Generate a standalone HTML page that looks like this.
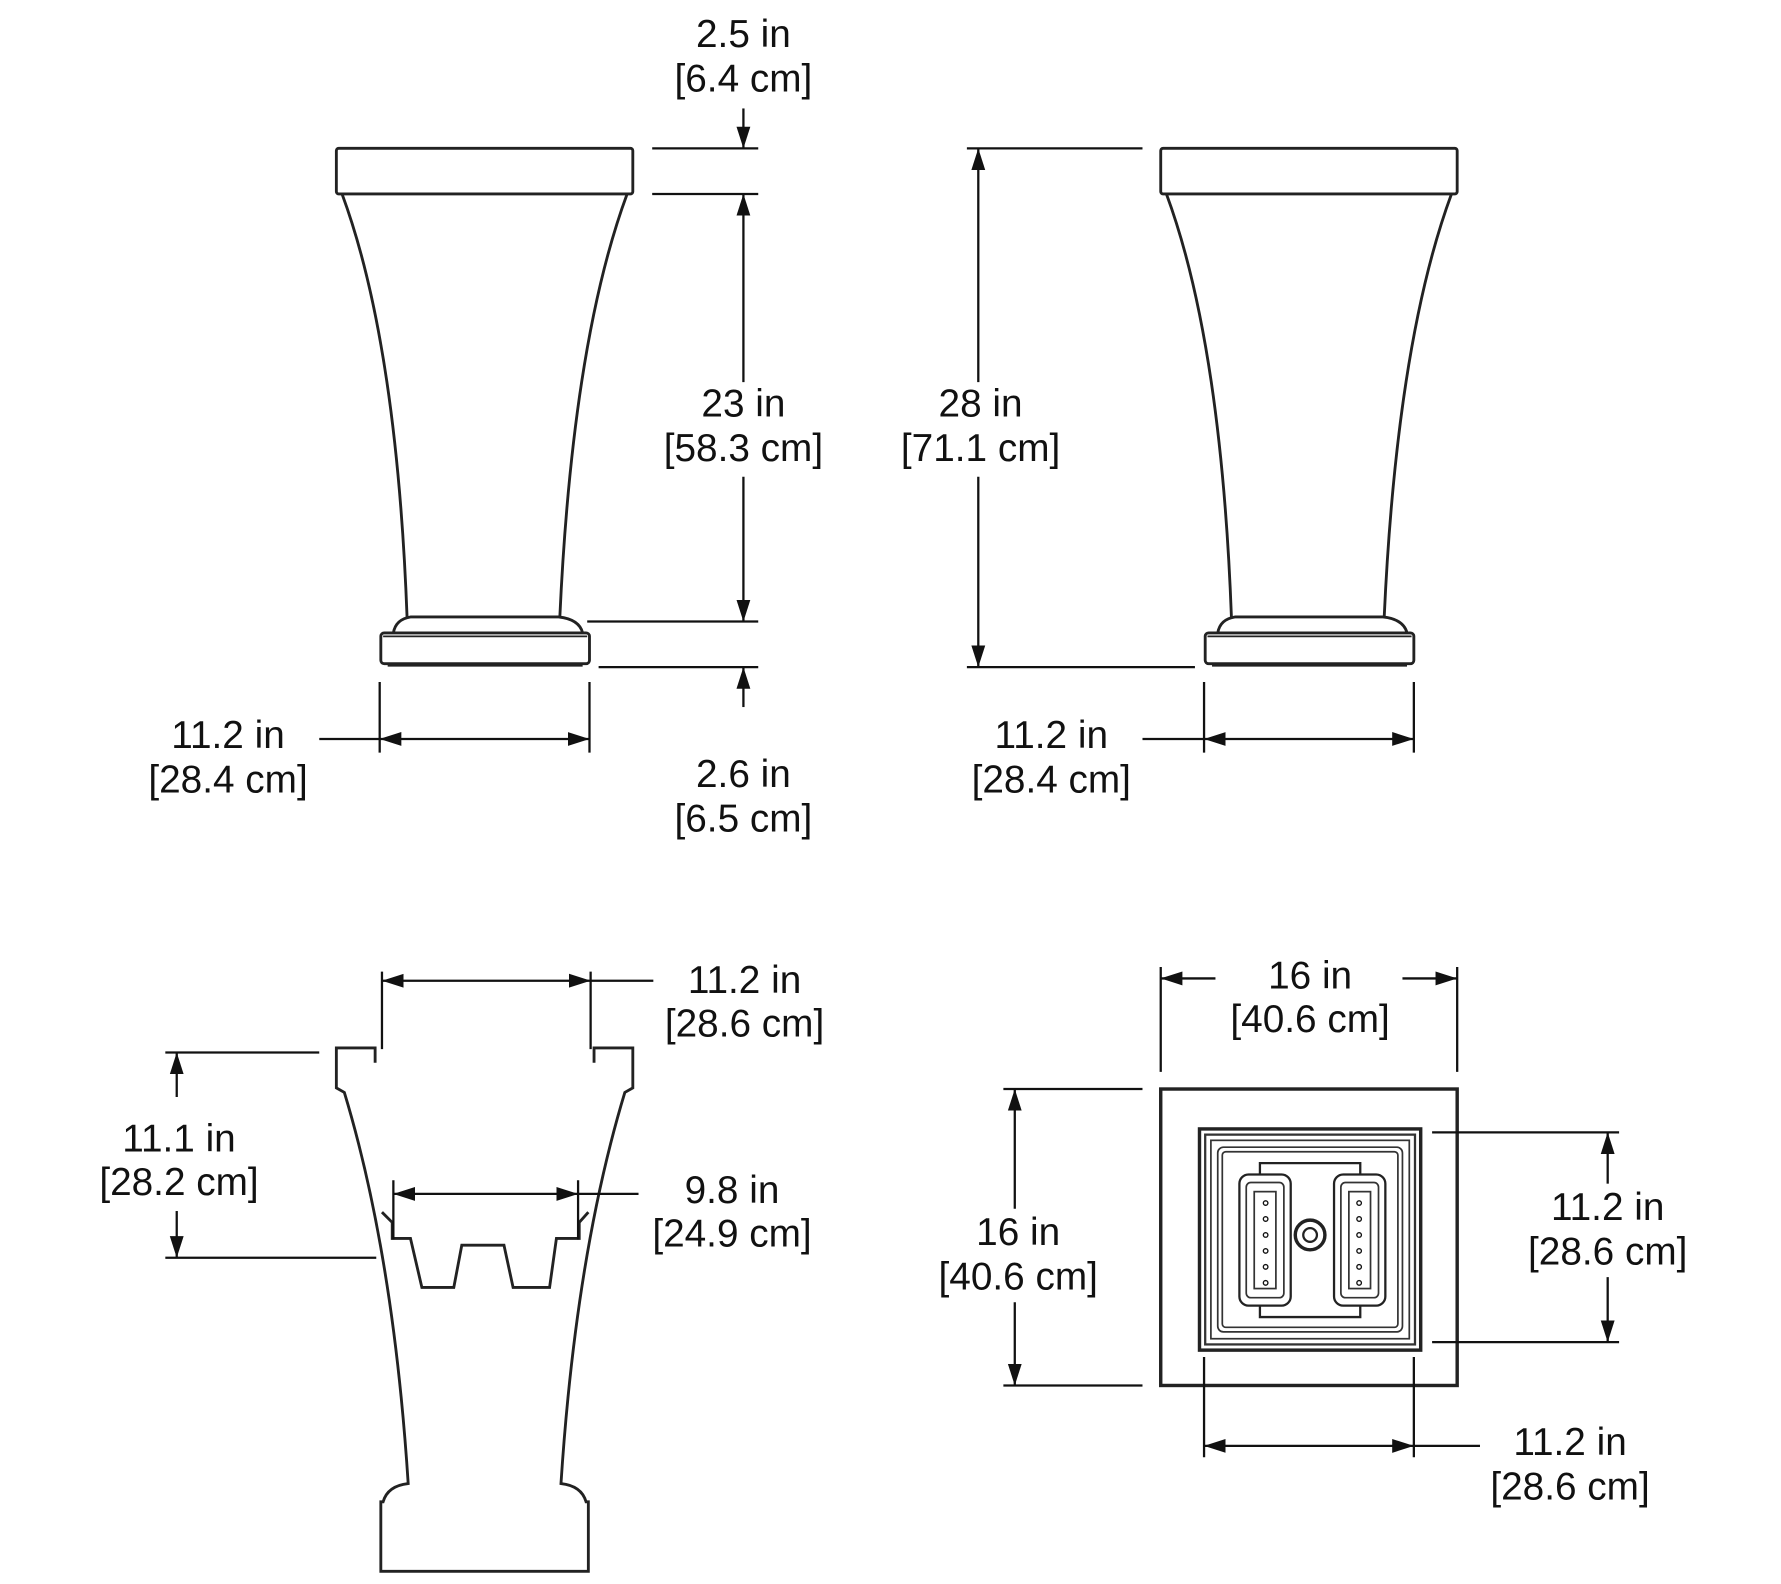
<!DOCTYPE html>
<html><head><meta charset="utf-8"><style>
html,body{margin:0;padding:0;background:#fff;}
svg{display:block;}
text{font-family:"Liberation Sans",sans-serif;font-size:34px;fill:#111;text-anchor:middle;}
</style></head><body>
<svg width="1781" height="1584" viewBox="0 0 1562 1389" xmlns="http://www.w3.org/2000/svg">
<defs>
<marker id="a" viewBox="0 0 10 10" refX="10" refY="5" markerWidth="19" markerHeight="19" markerUnits="userSpaceOnUse" orient="auto-start-reverse"><path d="M0,1.8 L10,5 L0,8.2 z" fill="#111"/></marker>
<g id="vase" fill="none" stroke="#222" stroke-width="2.5">
<rect x="295" y="130" width="260" height="40" rx="2"/>
<path d="M300,170 Q348,300 357,541 M550,170 Q502,300 491,541"/>
<path d="M345,555 Q347,543 360,541 L490,541 Q508,543 511,555"/>
<rect x="334" y="555" width="183" height="27" rx="3"/>
<line x1="340" y1="583" x2="511" y2="583" stroke-width="3"/>
<line x1="336" y1="558" x2="515" y2="558" stroke-width="1.5"/>
</g>
</defs>
<g stroke="#111" stroke-width="2" fill="none">
<use href="#vase"/>
<line x1="572" y1="130" x2="665" y2="130"/>
<line x1="572" y1="170" x2="665" y2="170"/>
<line x1="652" y1="95" x2="652" y2="130" marker-end="url(#a)"/>
<line x1="652" y1="335" x2="652" y2="170" marker-end="url(#a)"/>
<line x1="652" y1="418" x2="652" y2="545" marker-end="url(#a)"/>
<line x1="515" y1="545" x2="665" y2="545"/>
<line x1="525" y1="585" x2="665" y2="585"/>
<line x1="652" y1="620" x2="652" y2="585" marker-end="url(#a)"/>
<line x1="333" y1="598" x2="333" y2="660"/>
<line x1="517" y1="598" x2="517" y2="660"/>
<line x1="333" y1="648" x2="517" y2="648" marker-start="url(#a)" marker-end="url(#a)"/>
<line x1="280" y1="648" x2="333" y2="648"/>
<use href="#vase" transform="translate(723,0)"/>
<line x1="848" y1="130" x2="1002" y2="130"/>
<line x1="848" y1="585" x2="1048" y2="585"/>
<line x1="858" y1="335" x2="858" y2="130" marker-end="url(#a)"/>
<line x1="858" y1="418" x2="858" y2="585" marker-end="url(#a)"/>
<line x1="1056" y1="598" x2="1056" y2="660"/>
<line x1="1240" y1="598" x2="1240" y2="660"/>
<line x1="1056" y1="648" x2="1240" y2="648" marker-start="url(#a)" marker-end="url(#a)"/>
<line x1="1002" y1="648" x2="1056" y2="648"/>
<path stroke="#222" stroke-width="2.5" d="M329,932 L329,919 L295,919 L295,954 L302,958 Q345,1100 358,1301 Q340,1303 336,1317 L334,1317 L334,1378 L516,1378 L516,1317 L514,1317 Q510,1303 492,1301 Q505,1100 548,958 L555,954 L555,919 L521,919 L521,932"/>
<path stroke="#222" stroke-width="2.5" d="M335,1063 L344,1072 L344,1086 L360,1086 L370,1129 L398,1129 L405,1092 L442,1092 L450,1129 L482,1129 L488,1086 L508,1086 L508,1072 L516,1063"/>
<line x1="335" y1="852" x2="335" y2="920"/>
<line x1="518" y1="852" x2="518" y2="920"/>
<line x1="335" y1="860" x2="518" y2="860" marker-start="url(#a)" marker-end="url(#a)"/>
<line x1="518" y1="860" x2="573" y2="860"/>
<line x1="145" y1="923" x2="280" y2="923"/>
<line x1="145" y1="1103" x2="330" y2="1103"/>
<line x1="155" y1="962" x2="155" y2="923" marker-end="url(#a)"/>
<line x1="155" y1="1062" x2="155" y2="1103" marker-end="url(#a)"/>
<line x1="345" y1="1035" x2="345" y2="1087"/>
<line x1="507" y1="1035" x2="507" y2="1087"/>
<line x1="345" y1="1047" x2="507" y2="1047" marker-start="url(#a)" marker-end="url(#a)"/>
<line x1="507" y1="1047" x2="560" y2="1047"/>
<rect x="1018" y="955" width="260" height="260" stroke="#222" stroke-width="3"/>
<rect x="1052" y="990" width="194" height="194" stroke="#222" stroke-width="3"/>
<rect x="1057" y="995" width="184" height="184" stroke="#333" stroke-width="2"/>
<rect x="1062" y="1000" width="174" height="174" stroke="#333" stroke-width="1.5"/>
<rect x="1068" y="1006" width="162" height="162" rx="5" stroke="#333" stroke-width="1.5"/>
<rect x="1072" y="1010" width="154" height="154" rx="3" stroke="#333" stroke-width="1.5"/>
<rect x="1087" y="1030" width="45" height="115" rx="8" stroke="#222" stroke-width="2"/>
<rect x="1093" y="1037" width="33" height="101" rx="4" stroke="#333" stroke-width="1.5"/>
<rect x="1100" y="1045" width="19" height="85" stroke="#333" stroke-width="1.5"/>
<rect x="1170" y="1030" width="45" height="115" rx="8" stroke="#222" stroke-width="2"/>
<rect x="1176" y="1037" width="33" height="101" rx="4" stroke="#333" stroke-width="1.5"/>
<rect x="1183" y="1045" width="19" height="85" stroke="#333" stroke-width="1.5"/>
<path stroke="#222" stroke-width="2" d="M1105,1030 L1105,1020 L1193,1020 L1193,1030 M1105,1145 L1105,1155 L1193,1155 L1193,1145"/>
<circle cx="1149" cy="1083" r="13" stroke="#222" stroke-width="3"/>
<circle cx="1149" cy="1083" r="6" stroke="#222" stroke-width="2"/>
<g stroke-width="1.2"><circle cx="1110" cy="1055" r="2"/><circle cx="1110" cy="1069" r="2"/><circle cx="1110" cy="1083" r="2"/><circle cx="1110" cy="1097" r="2"/><circle cx="1110" cy="1111" r="2"/><circle cx="1110" cy="1125" r="2"/>
<circle cx="1192" cy="1055" r="2"/><circle cx="1192" cy="1069" r="2"/><circle cx="1192" cy="1083" r="2"/><circle cx="1192" cy="1097" r="2"/><circle cx="1192" cy="1111" r="2"/><circle cx="1192" cy="1125" r="2"/></g>
<line x1="1018" y1="848" x2="1018" y2="940"/>
<line x1="1278" y1="848" x2="1278" y2="940"/>
<line x1="1066" y1="858" x2="1018" y2="858" marker-end="url(#a)"/>
<line x1="1230" y1="858" x2="1278" y2="858" marker-end="url(#a)"/>
<line x1="880" y1="955" x2="1002" y2="955"/>
<line x1="880" y1="1215" x2="1002" y2="1215"/>
<line x1="890" y1="1060" x2="890" y2="955" marker-end="url(#a)"/>
<line x1="890" y1="1142" x2="890" y2="1215" marker-end="url(#a)"/>
<line x1="1256" y1="993" x2="1420" y2="993"/>
<line x1="1256" y1="1177" x2="1420" y2="1177"/>
<line x1="1410" y1="1038" x2="1410" y2="993" marker-end="url(#a)"/>
<line x1="1410" y1="1120" x2="1410" y2="1177" marker-end="url(#a)"/>
<line x1="1056" y1="1190" x2="1056" y2="1278"/>
<line x1="1240" y1="1190" x2="1240" y2="1278"/>
<line x1="1056" y1="1268" x2="1240" y2="1268" marker-start="url(#a)" marker-end="url(#a)"/>
<line x1="1240" y1="1268" x2="1298" y2="1268"/>
</g>
<text x="652" y="41">2.5 in</text><text x="652" y="80">[6.4 cm]</text>
<text x="652" y="365">23 in</text><text x="652" y="404">[58.3 cm]</text>
<text x="652" y="690">2.6 in</text><text x="652" y="729">[6.5 cm]</text>
<text x="200" y="656">11.2 in</text><text x="200" y="695">[28.4 cm]</text>
<text x="860" y="365">28 in</text><text x="860" y="404">[71.1 cm]</text>
<text x="922" y="656">11.2 in</text><text x="922" y="695">[28.4 cm]</text>
<text x="653" y="871">11.2 in</text><text x="653" y="909">[28.6 cm]</text>
<text x="157" y="1010">11.1 in</text><text x="157" y="1048">[28.2 cm]</text>
<text x="642" y="1055">9.8 in</text><text x="642" y="1093">[24.9 cm]</text>
<text x="1149" y="867">16 in</text><text x="1149" y="905">[40.6 cm]</text>
<text x="893" y="1092">16 in</text><text x="893" y="1131">[40.6 cm]</text>
<text x="1410" y="1070">11.2 in</text><text x="1410" y="1109">[28.6 cm]</text>
<text x="1377" y="1276">11.2 in</text><text x="1377" y="1315">[28.6 cm]</text>
</svg>
</body></html>
